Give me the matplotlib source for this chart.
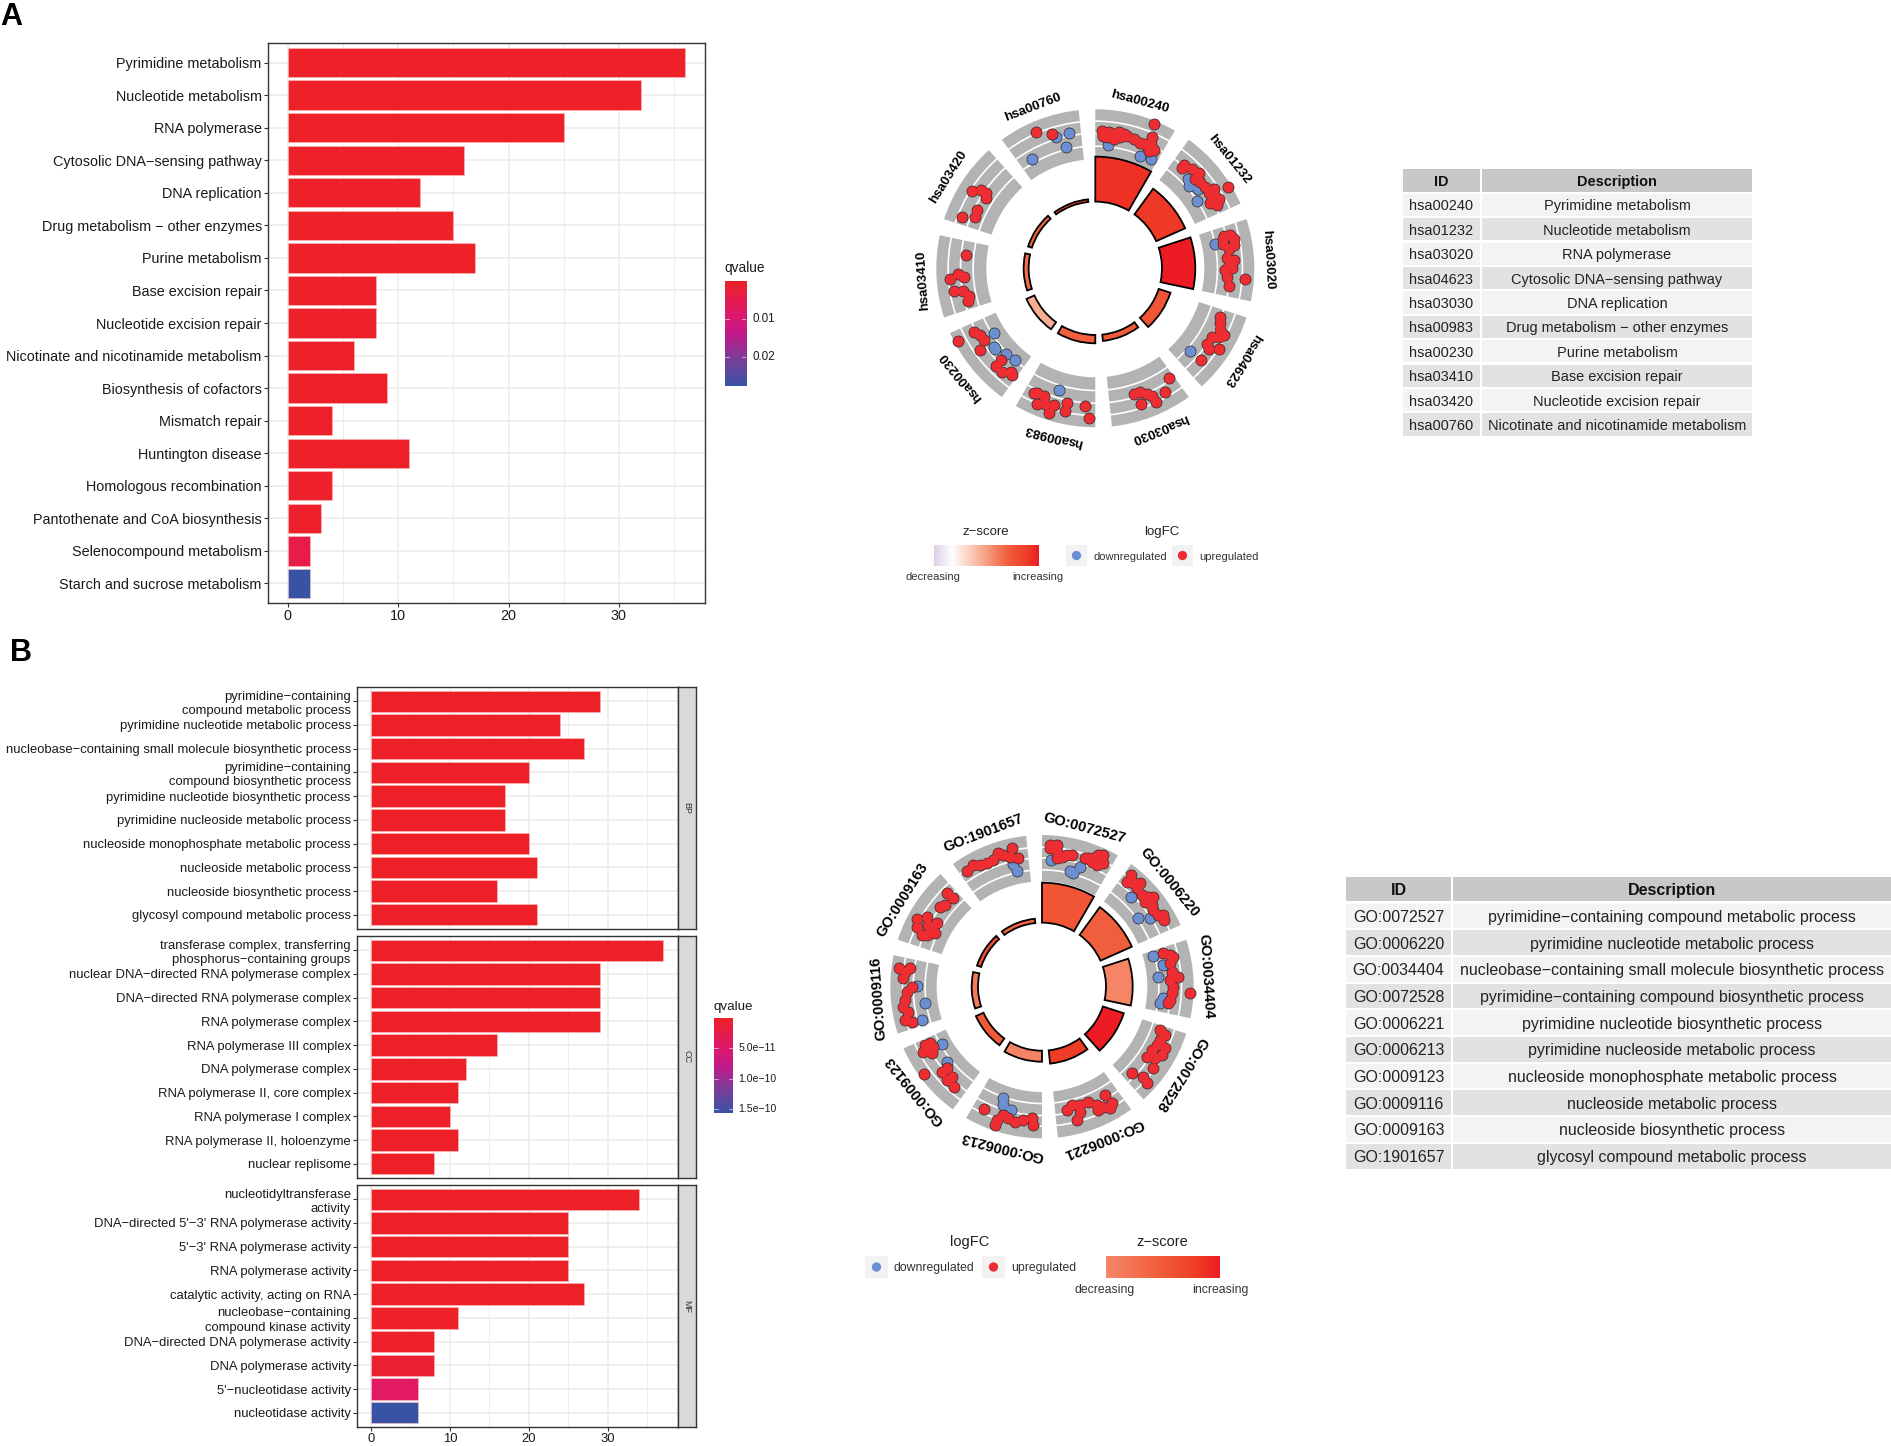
import numpy as np
import matplotlib
matplotlib.use('Agg')
import matplotlib.pyplot as plt
from matplotlib.colors import LinearSegmentedColormap
from matplotlib.patches import Rectangle, Wedge

plt.rcParams['font.family'] = ['Liberation Sans', 'DejaVu Sans']

W, H = 1891, 1446

# bar charts
kegg_terms = ['Pyrimidine metabolism', 'Nucleotide metabolism', 'RNA polymerase',
              'Cytosolic DNA−sensing pathway', 'DNA replication',
              'Drug metabolism − other enzymes', 'Purine metabolism', 'Base excision repair',
              'Nucleotide excision repair', 'Nicotinate and nicotinamide metabolism',
              'Biosynthesis of cofactors', 'Mismatch repair', 'Huntington disease',
              'Homologous recombination', 'Pantothenate and CoA biosynthesis',
              'Selenocompound metabolism', 'Starch and sucrose metabolism']
kegg_counts = [36, 32, 25, 16, 12, 15, 17, 8, 8, 6, 9, 4, 11, 4, 3, 2, 2]
kegg_q = [0.0002, 0.0002, 0.0002, 0.0002, 0.0002, 0.0002, 0.0002, 0.0003, 0.0003, 0.0004,
          0.0004, 0.0004, 0.0004, 0.0005, 0.0006, 0.004, 0.0275]

bp_terms = ['pyrimidine−containing\ncompound metabolic process',
            'pyrimidine nucleotide metabolic process',
            'nucleobase−containing small molecule biosynthetic process',
            'pyrimidine−containing\ncompound biosynthetic process',
            'pyrimidine nucleotide biosynthetic process',
            'pyrimidine nucleoside metabolic process',
            'nucleoside monophosphate metabolic process',
            'nucleoside metabolic process', 'nucleoside biosynthetic process',
            'glycosyl compound metabolic process']
bp_counts = [29, 24, 27, 20, 17, 17, 20, 21, 16, 21]
bp_q = [1e-13] * 10

cc_terms = ['transferase complex, transferring\nphosphorus−containing groups',
            'nuclear DNA−directed RNA polymerase complex',
            'DNA−directed RNA polymerase complex', 'RNA polymerase complex',
            'RNA polymerase III complex', 'DNA polymerase complex',
            'RNA polymerase II, core complex', 'RNA polymerase I complex',
            'RNA polymerase II, holoenzyme', 'nuclear replisome']
cc_counts = [37, 29, 29, 29, 16, 12, 11, 10, 11, 8]
cc_q = [1e-13] * 10

mf_terms = ['nucleotidyltransferase\nactivity', "DNA−directed 5'−3' RNA polymerase activity",
            "5'−3' RNA polymerase activity", 'RNA polymerase activity',
            'catalytic activity, acting on RNA',
            'nucleobase−containing\ncompound kinase activity',
            'DNA−directed DNA polymerase activity', 'DNA polymerase activity',
            "5'−nucleotidase activity", 'nucleotidase activity']
mf_counts = [34, 25, 25, 25, 27, 11, 8, 8, 6, 6]
mf_q = [1e-13, 1e-13, 1e-13, 1e-13, 1e-13, 1e-12, 2e-12, 8e-12, 4.2e-11, 1.56e-10]

# tables
kegg_ids = ['hsa00240', 'hsa01232', 'hsa03020', 'hsa04623', 'hsa03030',
            'hsa00983', 'hsa00230', 'hsa03410', 'hsa03420', 'hsa00760']
kegg_desc = kegg_terms[:10]
go_ids = ['GO:0072527', 'GO:0006220', 'GO:0034404', 'GO:0072528', 'GO:0006221',
          'GO:0006213', 'GO:0009123', 'GO:0009116', 'GO:0009163', 'GO:1901657']
go_desc = ['pyrimidine−containing compound metabolic process',
           'pyrimidine nucleotide metabolic process',
           'nucleobase−containing small molecule biosynthetic process',
           'pyrimidine−containing compound biosynthetic process',
           'pyrimidine nucleotide biosynthetic process',
           'pyrimidine nucleoside metabolic process',
           'nucleoside monophosphate metabolic process',
           'nucleoside metabolic process', 'nucleoside biosynthetic process',
           'glycosyl compound metabolic process']

# circle plots: outer radius of the inner bars and z-score colour position
kegg_bar_r = [335, 295, 300, 237, 219, 225, 226, 215, 212, 208]
kegg_z = [0.93, 0.9, 1.0, 0.75, 0.73, 0.7, 0.45, 0.65, 0.68, 0.8]
go_bar_r = [312, 295, 272, 258, 232, 225, 217, 211, 205, 205]
go_z = [0.55, 0.45, 0.03, 1.0, 0.8, 0.05, 0.5, 0.15, 0.6, 0.4]

# gene points of the outer ring, (x, y) from the circle centre
kegg_up = [
    (175, 418), (20, 400), (23, 385), (40, 395), (55, 390), (70, 397), (85, 390), (95, 383),
    (115, 375), (135, 365), (150, 360), (170, 380), (167, 360), (175, 343), (55, 375),
    (35, 380), (75, 380), (160, 340),
    (265, 300), (290, 287), (310, 277), (300, 260), (315, 250), (330, 237), (355, 230),
    (340, 220), (355, 210), (370, 200), (345, 190), (365, 185), (398, 237), (260, 290),
    (385, 95), (405, 97), (417, 85), (415, 68), (400, 57), (383, 70), (383, 85), (395, 30),
    (415, 25), (400, 10), (390, -5), (410, 0), (395, -25), (400, -50), (450, -30),
    (375, -140), (375, -160), (375, -180), (385, -195), (350, -200), (370, -200),
    (335, -220), (340, -235), (372, -235), (318, -265),
    (222, -318), (210, -360), (115, -365), (135, -360), (155, -365), (170, -370),
    (183, -387), (138, -393),
    (-32, -400), (-18, -435), (-85, -390), (-90, -413), (-123, -398), (-138, -420),
    (-150, -395), (-155, -370), (-175, -363), (-185, -363), (-175, -395),
    (-411, -210), (-365, -185), (-347, -195), (-335, -207), (-347, -237), (-282, -265),
    (-298, -283), (-280, -300), (-253, -300), (-250, -310),
    (-388, 38), (-413, -17), (-395, -25), (-437, -30), (-423, -65), (-397, -65),
    (-380, -80), (-383, -95),
    (-370, 224), (-343, 227), (-327, 220), (-327, 203), (-355, 168), (-360, 150),
    (-399, 148),
    (-178, 395), (-129, 390)]
kegg_down = [
    (39, 359), (133, 327), (157, 343), (167, 317),
    (278, 260), (282, 238), (308, 230), (305, 195), (358, 72), (285, -240), (-110, -353),
    (-305, -188), (-305, -230), (-300, -235), (-267, -250), (-242, -265),
    (-118, 382), (-80, 394), (-89, 353), (-191, 318)]

go_up = [
    (24, 425), (44, 425), (24, 415), (44, 405), (59, 390), (44, 385), (74, 395), (89, 395),
    (139, 385), (154, 385), (169, 395), (184, 395), (164, 365), (184, 370), (149, 375),
    (129, 385),
    (267, 335), (254, 315), (274, 310), (294, 310), (284, 295), (299, 275), (319, 270),
    (334, 270), (309, 255), (329, 245), (334, 230), (349, 215), (364, 215), (366, 200),
    (364, 100), (384, 95), (394, 90), (384, 70), (389, 45), (409, 30), (384, 20), (394, 0),
    (389, -20), (384, -40), (379, -50), (444, -20),
    (354, -130), (369, -145), (354, -160), (369, -185), (344, -175), (329, -190),
    (314, -210), (339, -215), (359, -205), (334, -245), (269, -258), (304, -270),
    (314, -290),
    (189, -325), (209, -350), (184, -360), (164, -355), (169, -370), (139, -345),
    (114, -355), (89, -355), (74, -370), (104, -400), (114, -375), (204, -365),
    (-28, -415), (-31, -395), (-56, -400), (-81, -405), (-101, -395), (-116, -385),
    (-136, -400), (-141, -415), (-174, -367),
    (-354, -263), (-351, -175), (-336, -170), (-356, -195), (-331, -200), (-301, -255),
    (-286, -245), (-271, -270), (-286, -280), (-263, -302), (-326, -180),
    (-428, 55), (-411, 45), (-396, 55), (-416, 25), (-391, 0), (-406, -15), (-411, -40),
    (-416, -60), (-401, -75), (-411, -100), (-391, -105),
    (-286, 282), (-266, 265), (-291, 245), (-306, 240), (-374, 202), (-374, 180),
    (-361, 155), (-344, 210), (-341, 185), (-316, 190), (-321, 160), (-344, 155),
    (-336, 170),
    (-226, 347), (-206, 365), (-186, 365), (-166, 370), (-146, 380), (-131, 400),
    (-116, 395), (-91, 415), (-96, 390), (-71, 385)]
go_down = [
    (26, 380), (84, 347), (94, 340), (114, 360), (266, 270), (289, 205), (324, 205),
    (334, 92), (362, 65), (349, 30), (364, -35), (354, -50), (369, -42),
    (-116, -335), (-116, -355), (-93, -370), (-300, -173), (-284, -225),
    (-376, 2), (-351, -48), (-361, -100), (-88, 368), (-76, 347)]

UP_COL = '#EE2D33'
DOWN_COL = '#6C8FD2'
TXT = '#1A1A1A'
q_cmap = LinearSegmentedColormap.from_list(
    'q', [(0, '#EE2027'), (0.28, '#E01A66'), (0.5, '#C3198A'), (0.75, '#7A3F9A'), (1, '#3953A4')])
z_cmap_a = LinearSegmentedColormap.from_list(
    'za', [(0, '#DDD0E6'), (0.17, '#FFFFFF'), (0.45, '#F8AE93'), (0.7, '#F15F3C'),
           (0.9, '#EE3A26'), (1, '#ED1C24')])
z_cmap_b = LinearSegmentedColormap.from_list(
    'zb', [(0, '#F6876A'), (0.5, '#F15A38'), (0.8, '#EE3D26'), (1, '#ED1C24')])

fig = plt.figure(figsize=(W / 100, H / 100), dpi=100, facecolor='white')


def add_box(x0, y0, x1, y1, **kw):
    return fig.add_axes([x0 / W, 1 - y1 / H, (x1 - x0) / W, (y1 - y0) / H], **kw)


over = add_box(0, 0, W, H)
over.set_xlim(0, W)
over.set_ylim(H, 0)
over.axis('off')


def draw_bars(ax, terms, counts, qvals, qmax, xlim, fs, linesp=1.0):
    ypos = np.arange(len(terms))
    ax.set_axisbelow(True)
    ax.barh(ypos, counts, height=0.9, color=q_cmap(np.array(qvals) / qmax),
            edgecolor='#F9C0C0', linewidth=0.4)
    ax.set_xlim(*xlim)
    ax.set_ylim(len(terms) - 0.4, -0.6)
    ax.set_yticks(ypos)
    ax.set_yticklabels(terms, fontsize=fs, color=TXT, linespacing=linesp)
    ax.set_xticks([0, 10, 20, 30])
    ax.set_xticks([5, 15, 25, 35], minor=True)
    ax.grid(True, which='major', color='#EBEBEB', linewidth=1.1)
    ax.grid(True, which='minor', axis='x', color='#EBEBEB', linewidth=0.6)
    ax.tick_params(axis='both', which='major', length=3, width=0.8, color='#333333',
                   labelcolor=TXT, labelsize=fs, pad=1.5)
    ax.tick_params(axis='x', which='minor', length=0)
    for s in ax.spines.values():
        s.set_color('#333333')
        s.set_linewidth(1.0)


def color_legend(x0, y0, x1, y1, ticks, labels, vmax, fs, offset):
    cax = add_box(x0, y0, x1, y1)
    grad = np.linspace(0, 1, 256).reshape(-1, 1)
    cax.imshow(grad, aspect='auto', cmap=q_cmap, extent=[0, 1, vmax, 0])
    cax.set_xticks([])
    cax.set_yticks([])
    for s in cax.spines.values():
        s.set_visible(False)
    for t in ticks:
        cax.plot([0, 0.2], [t, t], color='white', lw=0.5, alpha=0.8)
        cax.plot([0.8, 1], [t, t], color='white', lw=0.5, alpha=0.8)
    cax.set_xlim(0, 1)
    cax.set_ylim(vmax, 0)
    for t, lab in zip(ticks, labels):
        cax.annotate(lab, (1, t), xytext=(offset, 0), textcoords='offset points', va='center',
                     ha='left', fontsize=fs, color=TXT, annotation_clip=False)


def draw_circle(cx, cy, ids, bar_r, z, cmap, up, down, y_stretch, bands, r_in, label_r,
                label_deg, label_fs):
    half = 180
    ax = add_box(cx - half, cy - half, cx + half, cy + half)
    ax.set_xlim(-540, 540)
    ax.set_ylim(-540, 540)
    ax.axis('off')
    for i in range(len(ids)):
        a0, a1 = 90 - (36 * i + 30), 90 - 36 * i
        for k in range(len(bands) - 1):
            ax.add_patch(Wedge((0, 0), bands[k + 1], a0, a1, width=bands[k + 1] - bands[k] - 5,
                               facecolor='#B3B3B3', edgecolor='none', zorder=1))
        ax.add_patch(Wedge((0, 0), bar_r[i], a0, a1, width=bar_r[i] - r_in,
                           facecolor=cmap(z[i]), edgecolor='black', linewidth=1.3, zorder=2))
        ang = np.deg2rad(label_deg[i])
        ax.text(label_r * np.sin(ang), label_r * np.cos(ang), ids[i],
                rotation=-label_deg[i], rotation_mode='anchor', ha='center', va='center',
                fontsize=label_fs, color='black', fontweight='bold', zorder=6, clip_on=False)
    for pts, col, zo in ((down, DOWN_COL, 3), (up, UP_COL, 4)):
        xs = [p[0] for p in pts]
        ys = [p[1] * y_stretch for p in pts]
        # dark layer first so overlapping points merge into one outlined blob
        ax.scatter(xs, ys, s=72, color='#2A2A2A', linewidth=0, zorder=zo)
        ax.scatter(xs, ys, s=56, color=col, linewidth=0, zorder=zo + 0.5)


def point_key(x0, y0, x1, y1, col, label, fs):
    over.add_patch(Rectangle((x0, y0), x1 - x0, y1 - y0, facecolor='#F2F2F2', edgecolor='none'))
    over.scatter([(x0 + x1) / 2], [(y0 + y1) / 2], s=45, color=col, edgecolor='none')
    over.text(x1 + 6, (y0 + y1) / 2 + 1, label, ha='left', va='center', fontsize=fs, color='#333333')


def z_bar(x0, y0, x1, y1, cmap):
    zax = add_box(x0, y0, x1, y1)
    zax.imshow(np.linspace(0, 1, 256).reshape(1, -1), aspect='auto', cmap=cmap)
    zax.axis('off')


def draw_table(x0, x1, x2, head_y0, head_y1, row_top, pitch, ids, desc, fs):
    over.add_patch(Rectangle((x0, head_y0), x1 - x0, head_y1 - head_y0, facecolor='#C8C8C8', edgecolor='none'))
    over.add_patch(Rectangle((x1 + 2, head_y0), x2 - x1 - 2, head_y1 - head_y0, facecolor='#C8C8C8', edgecolor='none'))
    ym = (head_y0 + head_y1) / 2 + 1.5
    over.text((x0 + x1) / 2, ym, 'ID', ha='center', va='center', fontsize=fs, fontweight='bold', color='#111111')
    over.text((x1 + 2 + x2) / 2, ym, 'Description', ha='center', va='center', fontsize=fs,
              fontweight='bold', color='#111111')
    for i in range(len(ids)):
        top = row_top + i * pitch
        col = '#F3F3F3' if i % 2 == 0 else '#E2E2E2'
        over.add_patch(Rectangle((x0, top), x1 - x0, pitch - 2, facecolor=col, edgecolor='none'))
        over.add_patch(Rectangle((x1 + 2, top), x2 - x1 - 2, pitch - 2, facecolor=col, edgecolor='none'))
        ty = top + (pitch - 2) / 2 + 1.5
        over.text((x0 + x1) / 2, ty, ids[i], ha='center', va='center', fontsize=fs, color='#222222')
        over.text((x1 + 2 + x2) / 2, ty, desc[i], ha='center', va='center', fontsize=fs, color='#222222')


# panel labels
over.text(0, 25, 'A', fontsize=22, fontweight='bold', ha='left', va='baseline')
over.text(10, 661, 'B', fontsize=22, fontweight='bold', ha='left', va='baseline')

# panel A bars
ax_a = add_box(268, 43, 705, 603)
draw_bars(ax_a, kegg_terms, kegg_counts, kegg_q, 0.0275, (-1.8, 37.8), 10.4)
over.text(724, 268, 'qvalue', ha='left', va='center', fontsize=9.8, color=TXT)
color_legend(724.5, 281, 746, 386, [0.01, 0.02], ['0.01', '0.02'], 0.0275, 8.4, 5)

# panel B bars
facets = [('BP', bp_terms, bp_counts, bp_q, 687, 929),
          ('CC', cc_terms, cc_counts, cc_q, 936, 1178),
          ('MF', mf_terms, mf_counts, mf_q, 1185, 1427)]
for name, terms, counts, qs, y0, y1 in facets:
    ax = add_box(357, y0, 677.5, y1)
    draw_bars(ax, terms, counts, qs, 1.56e-10, (-1.77, 38.85), 9.4, linesp=1.25)
    if name != 'MF':
        ax.tick_params(axis='x', which='major', length=0, labelbottom=False)
    strip = add_box(677.5, y0, 696, y1)
    strip.set_facecolor('#D9D9D9')
    strip.set_xticks([])
    strip.set_yticks([])
    for s in strip.spines.values():
        s.set_color('#333333')
        s.set_linewidth(1.0)
    strip.text(0.5, 0.5, name, rotation=-90, ha='center', va='center', fontsize=6.5,
               color='#333333', transform=strip.transAxes)
over.text(714, 1007, 'qvalue', ha='left', va='center', fontsize=9.6, color=TXT)
color_legend(714, 1018, 733, 1113, [5e-11, 1e-10, 1.5e-10], ['5.0e−11', '1.0e−10', '1.5e−10'],
             1.56e-10, 7.6, 4)

# circles
draw_circle(1095.3, 268.3, kegg_ids, kegg_bar_r, kegg_z, z_cmap_a, kegg_up, kegg_down,
            1.033, [322, 364, 402, 439, 477], 200, 518,
            [15, 51, 87, 122, 158, 194, 231, 266, 302, 339], 9.5)
draw_circle(1042, 986.7, go_ids, go_bar_r, go_z, z_cmap_b, go_up, go_down,
            1.0, [311, 348, 384, 416, 455], 192, 493,
            [15, 50.7, 86.5, 122, 158, 194, 231, 266, 302, 339], 10.5)

# circle legends A
over.text(986, 532, 'z−score', ha='center', va='center', fontsize=9.5, color='#222222')
z_bar(934, 545, 1039, 566, z_cmap_a)
over.text(933, 576.5, 'decreasing', ha='center', va='center', fontsize=8, color='#333333')
over.text(1038, 576.5, 'increasing', ha='center', va='center', fontsize=8, color='#333333')
over.text(1162, 532, 'logFC', ha='center', va='center', fontsize=9.5, color='#222222')
point_key(1066, 545, 1087, 566, DOWN_COL, 'downregulated', 8)
point_key(1172, 545, 1193, 566, UP_COL, 'upregulated', 8)

# circle legends B
over.text(970, 1242, 'logFC', ha='center', va='center', fontsize=10.5, color='#222222')
point_key(865, 1256, 888, 1278, DOWN_COL, 'downregulated', 8.8)
point_key(982, 1256, 1005, 1278, UP_COL, 'upregulated', 8.8)
over.text(1162, 1242, 'z−score', ha='center', va='center', fontsize=10.5, color='#222222')
z_bar(1106, 1256, 1220, 1278, z_cmap_b)
over.text(1105, 1290, 'decreasing', ha='center', va='center', fontsize=8.8, color='#333333')
over.text(1220, 1290, 'increasing', ha='center', va='center', fontsize=8.8, color='#333333')

# tables
draw_table(1403, 1480, 1752, 169, 192, 193.7, 24.4, kegg_ids, kegg_desc, 10.45)
draw_table(1346, 1451, 1891, 877, 901, 903.5, 26.7, go_ids, go_desc, 11.5)

fig.savefig('out.png', dpi=100, facecolor='white')
